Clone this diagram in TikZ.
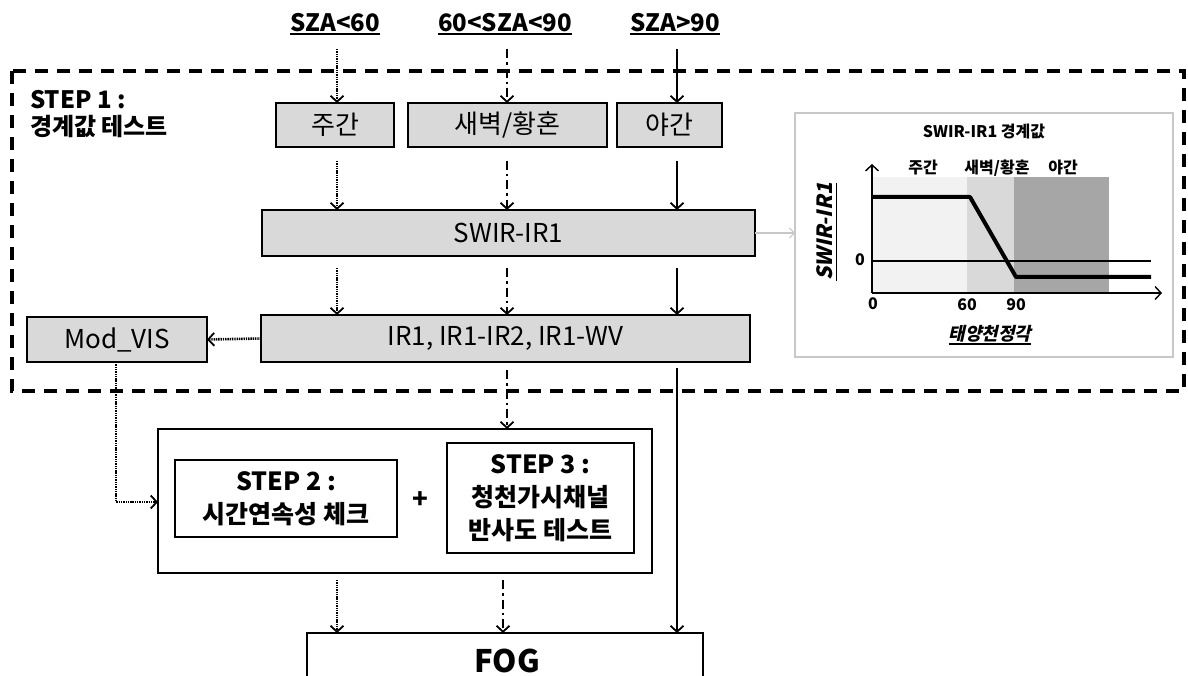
\documentclass[tikz,border=0pt]{standalone}
\usepackage{fontspec}
\setmainfont{Noto Sans CJK KR}
\newfontfamily\slantfont{Noto Sans CJK KR}[FakeSlant=0.22]
\usetikzlibrary{arrows.meta}
\definecolor{boxgray}{HTML}{D9D9D9}
\definecolor{shadeA}{HTML}{F2F2F2}
\definecolor{shadeB}{HTML}{D9D9D9}
\definecolor{shadeC}{HTML}{A6A6A6}
\definecolor{panelline}{HTML}{C8C8C8}
% thick underline used for the heading labels
\newcommand\thickul[2][1.6pt]{\setbox0\hbox{#2}\rlap{\rule[-4pt]{\wd0}{#1}}\box0}
\begin{document}
\begin{tikzpicture}[x=1pt,y=-1pt,
  every node/.style={inner sep=0pt,outer sep=0pt},
  grayblock/.style={draw=black,line width=1.8pt,fill=boxgray,font=\fontsize{26}{30}\selectfont},
  whiteblock/.style={draw=black,line width=1.8pt,fill=white},
  steptext/.style={align=center,font=\fontsize{25}{33}\selectfont\bfseries},
  tip/.style={-{Straight Barb[length=6pt,width=13pt,line width=1.8pt]}},
  dotline/.style={tip,line width=2.6pt,dash pattern=on 1.4pt off 0.9pt,draw=black},
  dashdotline/.style={tip,line width=2.8pt,dash pattern=on 9pt off 4pt on 2.5pt off 4pt},
  solidline/.style={tip,line width=2.8pt},
  headlbl/.style={font=\fontsize{24}{28}\selectfont\bfseries},
  plotlbl/.style={font=\fontsize{16}{19}\selectfont\bfseries},
]
\useasboundingbox (0,0) rectangle (1188,676);
\clip (0,0) rectangle (1188,676);

% column positions of the three flows
\coordinate (colA) at (337,0);
\coordinate (colB) at (507,0);
\coordinate (colC) at (677,0);
\coordinate (colBlow) at (503,0);

% heading labels
\node[headlbl] (lblA) at (335,24) {\thickul{SZA<60}};
\node[headlbl] (lblB) at (505,24) {\thickul{60<SZA<90}};
\node[headlbl] (lblC) at (675,24) {\thickul{SZA>90}};

% step 1 frame
\draw[line width=4pt,dash pattern=on 13pt off 9pt] (12,71) rectangle (1184,391);
\node[anchor=west,align=left,font=\fontsize{24}{27}\selectfont\bfseries] (step1) at (30,114)
  {STEP 1 :\\경계값 테스트};

% regime boxes
\node[grayblock,minimum width=118pt,minimum height=44pt] (day) at (335,125) {주간};
\node[grayblock,minimum width=199pt,minimum height=44pt] (dawn) at (507.5,125) {새벽/황혼};
\node[grayblock,minimum width=105pt,minimum height=44pt] (night) at (669.5,125) {야간};

% test boxes
\node[grayblock,minimum width=493pt,minimum height=46pt] (swir) at (508.5,233) {SWIR-IR1};
\node[grayblock,minimum width=489pt,minimum height=47pt] (ir) at (505.5,338.5) {IR1, IR1-IR2, IR1-WV};
\node[grayblock,minimum width=180pt,minimum height=45pt] (modvis) at (117,339.5) {Mod\_VIS};

% step 2 / step 3 group
\node[whiteblock,minimum width=494pt,minimum height=144pt] (group) at (405,501) {};
\node[whiteblock,minimum width=222pt,minimum height=77pt,steptext] (step2) at (286,498.5)
  {STEP 2 :\\시간연속성 체크};
\node[whiteblock,minimum width=187pt,minimum height=110pt,steptext] (step3) at (540.5,498)
  {STEP 3 :\\청천가시채널\\반사도 테스트};
\node[font=\fontsize{26}{30}\selectfont\bfseries] (plus) at (420,500) {+};

% result box
\node[whiteblock,minimum width=396pt,minimum height=100pt,anchor=north] (fog) at (505,633) {};
\node[font=\fontsize{31}{34}\selectfont\bfseries] (fogtxt) at (507,661) {FOG};

% flows from the headings
\draw[dotline] ([yshift=-14pt]lblA.south -| colA) -- (day.north -| colA);
\draw[dashdotline] ([yshift=-14pt]lblB.south -| colB) -- (dawn.north -| colB);
\draw[solidline] ([yshift=-14pt]lblC.south -| colC) -- (night.north -| colC);

\draw[dotline] ([yshift=-14pt]day.south -| colA) -- (swir.north -| colA);
\draw[dashdotline] ([yshift=-14pt]dawn.south -| colB) -- (swir.north -| colB);
\draw[solidline] ([yshift=-14pt]night.south -| colC) -- (swir.north -| colC);

\draw[dotline] ([yshift=-12pt]swir.south -| colA) -- (ir.north -| colA);
\draw[dashdotline] ([yshift=-12pt]swir.south -| colB) -- (ir.north -| colB);
\draw[solidline] ([yshift=-12pt]swir.south -| colC) -- (ir.north -| colC);

\draw[dotline] (ir.west) -- (modvis.east);
\coordinate (mvbend) at (116,502);
\draw[dotline] (modvis.south -| mvbend) -- (mvbend) -- (group.west |- mvbend);
\draw[dashdotline] ([yshift=-8pt]ir.south -| colB) -- (group.north -| colB);
\draw[solidline] ([yshift=-6pt]ir.south -| colC) -- (fog.north -| colC);

\draw[dotline] ([yshift=-7pt]group.south -| colA) -- (fog.north -| colA);
\draw[dashdotline] ([yshift=-7pt]group.south -| colBlow) -- (fog.north -| colBlow);

% threshold panel
\node[draw=panelline,line width=1.6pt,fill=white,minimum width=378pt,minimum height=244pt] (panel) at (984,235) {};
\draw[-{Straight Barb[length=5pt,width=10pt,line width=1pt]},draw=panelline,line width=1.2pt] (swir.east) -- (panel.west |- swir.east);
\node[font=\fontsize{16}{19}\selectfont\bfseries] (ptitle) at (984,132) {SWIR-IR1 경계값};

\fill[shadeA] (872,177) rectangle (967,293);
\fill[shadeB] (967,177) rectangle (1014,293);
\fill[shadeC] (1014,177) rectangle (1109,293);
\coordinate (orig) at (872,293);
\coordinate (ytop) at (872,164);
\coordinate (xend) at (1162,293);
\draw[line width=1.2pt] (872,261) -- (1151,261);
\draw[line width=4pt,line join=round] (872,197) -- (970,197) -- (1016,277) -- (1151,277);
\draw[-{Straight Barb[length=6pt,width=13pt,line width=1.4pt]},line width=1.6pt] (orig) -- (ytop);
\draw[-{Straight Barb[length=6pt,width=13pt,line width=1.4pt]},line width=1.6pt] (orig) -- (xend);

\node[plotlbl] (pday) at (923,168) {주간};
\node[plotlbl] (pdawn) at (997,168) {새벽/황혼};
\node[plotlbl] (pnight) at (1063,168) {야간};
\node[plotlbl] (zeroy) at (860,260) {0};
\node[plotlbl] (zerox) at (873,304) {0};
\node[plotlbl] (sixty) at (967,305) {60};
\node[plotlbl] (ninety) at (1016,305) {90};
\node[font=\fontsize{18}{21}\selectfont\bfseries\slantfont] (xlab) at (990,335) {\thickul[1.4pt]{태양천정각}};
\node[font=\fontsize{21}{24}\selectfont\bfseries\slantfont,rotate=90] (ylab) at (827,232) {\thickul[1.4pt]{SWIR-IR1}};
\end{tikzpicture}
\end{document}
